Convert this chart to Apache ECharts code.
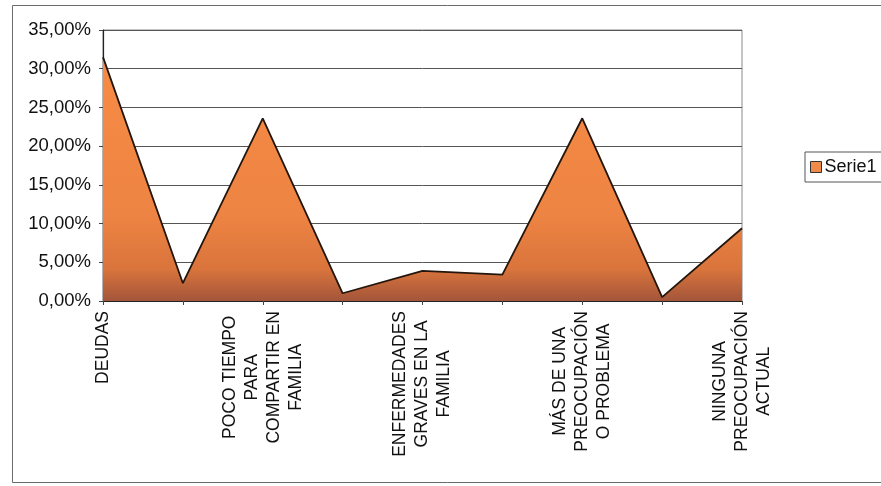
<!DOCTYPE html>
<html>
<head>
<meta charset="utf-8">
<script src="https://cdn.jsdelivr.net/npm/echarts@6/dist/echarts.min.js"></script>
<style>
html,body{margin:0;padding:0;background:#fff;}
#c{width:881px;height:486px;}
</style>
</head>
<body>
<div id="c"></div>
<script>
const categories = [
  'DEUDAS',
  '',
  'POCO TIEMPO\nPARA\nCOMPARTIR EN\nFAMILIA',
  '',
  'ENFERMEDADES\nGRAVES EN LA\nFAMILIA',
  '',
  'MÁS DE UNA\nPREOCUPACIÓN\nO PROBLEMA',
  '',
  'NINGUNA\nPREOCUPACIÓN\nACTUAL'
];
const seriesName = 'Serie1';
const serie1 = [0.315, 0.023, 0.236, 0.010, 0.039, 0.034, 0.236, 0.005, 0.094];
const yMin = 0, yMax = 0.35, yStep = 0.05;

const chart = echarts.init(document.getElementById('c'), null, {renderer: 'canvas'});
chart.setOption({
  animation: false,
  backgroundColor: '#fff',
  graphic: [{
    type: 'rect', left: 10, top: 3, z: -1,
    shape: {width: 900, height: 477},
    style: {fill: 'none', stroke: '#6b6b6b', lineWidth: 1}
  }],
  grid: {
    left: 103, right: 139, top: 30, bottom: 185,
    show: true, borderColor: '#8a8a8a', borderWidth: 1, backgroundColor: 'transparent'
  },
  legend: {
    show: true,
    left: 805, top: 152,
    orient: 'vertical',
    itemWidth: 11, itemHeight: 11, itemGap: 4,
    padding: [6, 20, 6, 5],
    borderColor: '#555', borderWidth: 1,
    icon: 'rect',
    textStyle: {fontFamily: 'Liberation Sans', fontSize: 18, color: '#111', padding: [0, 0, 0, -2]},
    data: [{name: seriesName, itemStyle: {color: '#F08A48', borderColor: '#333', borderWidth: 1}}]
  },
  xAxis: {
    type: 'category',
    data: categories,
    boundaryGap: false,
    axisLine: {lineStyle: {color: '#222', width: 1.2}},
    axisTick: {show: true, length: 4, alignWithLabel: true, interval: 0, lineStyle: {color: '#444'}},
    splitLine: {show: false},
    axisLabel: {
      interval: 0,
      rotate: 90,
      margin: 10,
      fontFamily: 'Liberation Sans',
      fontSize: 17,
      lineHeight: 22,
      color: '#111',
      formatter: function (v) {
        return v.split('\n').map(function (l) { return '{c|' + l + '}'; }).join('\n');
      },
      rich: {c: {align: 'center', fontFamily: 'Liberation Sans', fontSize: 17.5, lineHeight: 22, color: '#111'}}
    }
  },
  yAxis: {
    type: 'value',
    min: yMin, max: yMax, interval: yStep,
    axisLine: {show: true, lineStyle: {color: '#222', width: 1.2}},
    axisTick: {show: true, length: 4, lineStyle: {color: '#444'}},
    splitLine: {show: true, lineStyle: {color: '#555', width: 1}},
    axisLabel: {
      margin: 12,
      fontFamily: 'Liberation Sans',
      fontSize: 18.5,
      color: '#111',
      formatter: function (v) { return (v * 100).toFixed(2).replace('.', ',') + '%'; }
    }
  },
  series: [{
    name: seriesName,
    type: 'line',
    data: serie1,
    symbol: 'none',
    lineStyle: {color: '#24160c', width: 1.8},
    itemStyle: {color: '#F08A48'},
    areaStyle: {
      opacity: 1,
      color: new echarts.graphic.LinearGradient(0, 0, 0, 1, [
        {offset: 0, color: '#F78B45'},
        {offset: 0.65, color: '#EE8443'},
        {offset: 0.87, color: '#D9743C'},
        {offset: 1, color: '#A3553A'}
      ])
    }
  }]
});
</script>
</body>
</html>
